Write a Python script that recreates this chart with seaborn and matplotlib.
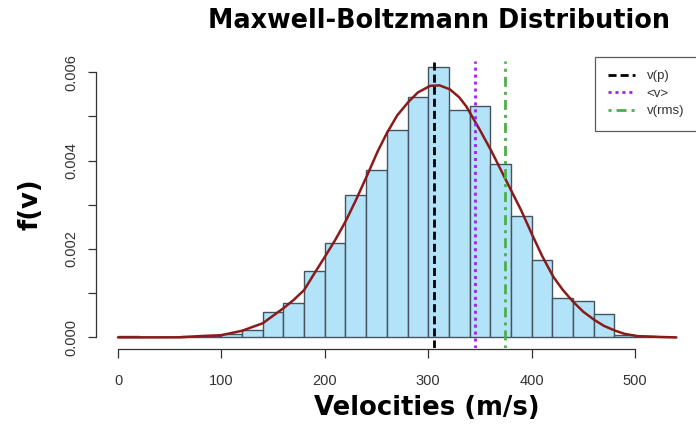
import numpy as np
import pandas as pd
import matplotlib
matplotlib.use("Agg")
import matplotlib.pyplot as plt
import seaborn as sns

# histogram bins (width 20 m/s) and densities
bin_edges = list(range(0, 560, 20))
densities = [0.00003, 0.0, 0.0, 0.00003, 0.00003, 0.00007, 0.00017, 0.00057,
             0.00078, 0.00150, 0.00214, 0.00321, 0.00379, 0.00469, 0.00543,
             0.00611, 0.00514, 0.00523, 0.00392, 0.00274, 0.00175, 0.00088,
             0.00083, 0.00053, 0.00005, 0.00003, 0.00002]

# fitted curve, points
curve_v = [0, 60, 80, 100, 120, 140, 160, 170, 180, 190, 200, 210, 220, 230,
           242, 251, 260, 270, 281, 290, 302, 311, 321, 330, 337, 350, 361,
           370, 379, 390, 400, 410, 421, 430, 440, 450, 461, 470, 481, 490,
           502, 524, 540]
curve_f = [0.0, 0.000002, 0.00003, 0.00005, 0.00015, 0.00032, 0.00066,
           0.00085, 0.00107, 0.00145, 0.00182, 0.0022, 0.00262, 0.0031,
           0.00372, 0.0042, 0.00462, 0.00502, 0.00533, 0.00554, 0.00569,
           0.0057, 0.00561, 0.00543, 0.00522, 0.00469, 0.00422, 0.0038,
           0.00338, 0.00287, 0.00235, 0.00185, 0.00137, 0.00108, 0.00081,
           0.00058, 0.00039, 0.00026, 0.00015, 0.00008, 0.00003, 0.00001, 0.0]

# characteristic speeds
speed_names = ["v(p)", "<v>", "v(rms)"]
speed_vals = [305.6, 344.8, 374.3]

sns.set_style("white")
tick_font = ["Liberation Sans Narrow", "Liberation Sans", "DejaVu Sans"]

fig = plt.figure(figsize=(6.96, 4.36), dpi=100)
ax = fig.add_axes([96 / 696, 1 - 348 / 436, 600 / 696, 286.5 / 436])

hist_df = pd.DataFrame({"v": [e + 10 for e in bin_edges[:-1]], "f": densities})
sns.histplot(data=hist_df, x="v", weights="f", bins=bin_edges, stat="count",
             color="#B3E3F8", edgecolor="#44535d", linewidth=1.0, alpha=1.0, ax=ax)

curve_df = pd.DataFrame({"v": curve_v, "f": curve_f})
sns.lineplot(data=curve_df, x="v", y="f", color="#8B1A1A", linewidth=1.8, ax=ax)

styles = [
    dict(color="black", linestyle=(0, (2.9, 1.45))),
    dict(color="#A020F0", linestyle=(0, (1.1, 1.4))),
    dict(color="#4DAE4D", linestyle=(0, (1.1, 1.8, 3.6, 1.8))),
]
for name, val, st in zip(speed_names, speed_vals, styles):
    ax.axvline(val, linewidth=2.0, label=name, **st)

ax.set_xlim(-21.28, 559.0)
ax.set_ylim(-0.00024, 0.00624)

for s in ["top", "right"]:
    ax.spines[s].set_visible(False)
ax.spines["left"].set_bounds(0, 0.006)
ax.spines["bottom"].set_bounds(0, 500)
ax.spines["bottom"].set_position(("outward", 1))
for s in ["left", "bottom"]:
    ax.spines[s].set_color("#333333")
    ax.spines[s].set_linewidth(0.9)

ax.set_xticks([0, 100, 200, 300, 400, 500])
ax.set_xticklabels(["0", "100", "200", "300", "400", "500"])
yt = [0.0, 0.001, 0.002, 0.003, 0.004, 0.005, 0.006]
ax.set_yticks(yt)
ax.set_yticklabels(["0.000", "", "0.002", "", "0.004", "", "0.006"])
ax.tick_params(axis="x", direction="out", length=6.5, width=0.9, color="#333333",
               pad=11, labelsize=10.5, labelcolor="#333333", bottom=True)
ax.tick_params(axis="y", direction="out", length=5.8, width=0.9, color="#333333",
               pad=7, labelsize=10.5, labelcolor="#333333", left=True)
for lab in ax.get_xticklabels():
    lab.set_family(tick_font)
for lab in ax.get_yticklabels():
    lab.set_family(tick_font)
    lab.set_rotation(90)
    lab.set_va("center")

ax.set_xlabel("")
ax.set_ylabel("")
fig.text(427 / 696, 1 - 408 / 436, "Velocities (m/s)", ha="center", va="center",
         fontsize=18.6, fontweight="bold", family="DejaVu Sans", color="black")
fig.text(31 / 696, 1 - 204 / 436, "f(v)", ha="center", va="center", rotation=90,
         fontsize=18.6, fontweight="bold", family="DejaVu Sans", color="black")
fig.text(439 / 696, 1 - 21 / 436, "Maxwell-Boltzmann Distribution", ha="center",
         va="center", fontsize=18.4, fontweight="bold", family="DejaVu Sans",
         color="black")

leg = ax.legend(loc="upper left", bbox_to_anchor=(595 / 696, 1 - 57 / 436),
                bbox_transform=fig.transFigure, frameon=True, fancybox=False,
                prop={"family": tick_font, "size": 9.5}, handlelength=2.0,
                handletextpad=0.9, borderpad=1.0, labelspacing=0.4,
                borderaxespad=0)
leg.get_frame().set_edgecolor("#333333")
leg.get_frame().set_linewidth(0.9)
for t in leg.get_texts():
    t.set_color("#333333")

fig.savefig("out.png", dpi=100)
